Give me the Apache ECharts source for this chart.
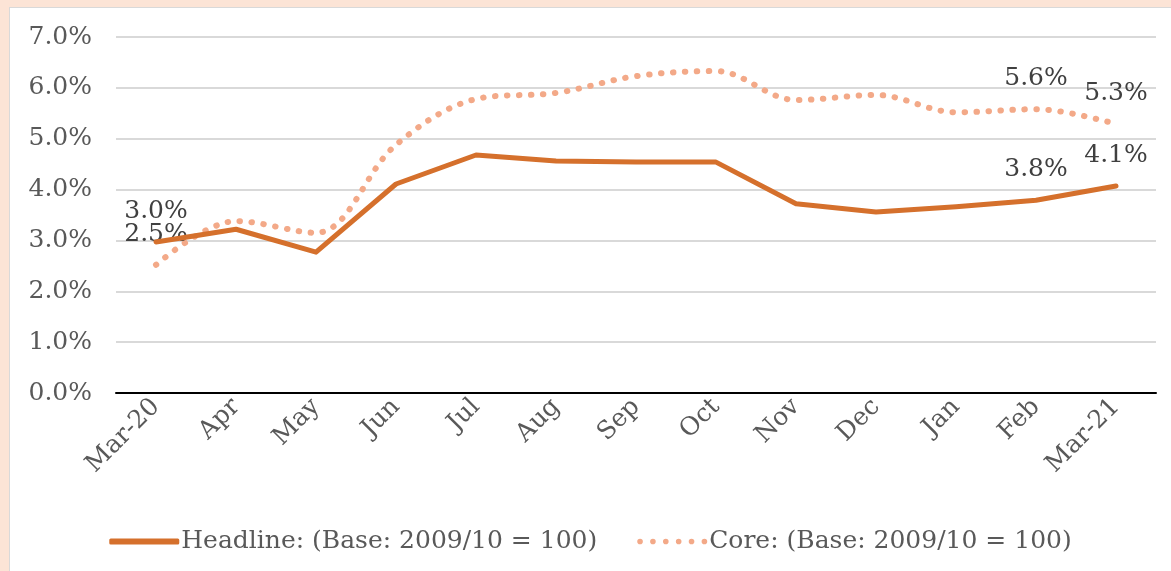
<!DOCTYPE html>
<html>
<head>
<meta charset="utf-8">
<script src="https://cdn.jsdelivr.net/npm/echarts@6/dist/echarts.min.js"></script>
<style>
  html, body { margin: 0; padding: 0; background: #fce4d6; }
  .frame {
    position: absolute; left: 9px; top: 7px;
    width: 1162px; height: 564px; box-sizing: border-box;
    border-left: 1px solid #d9d9d9; border-top: 1px solid #d9d9d9;
    background: #fff;
  }
  #chart { width: 1161px; height: 563px; }
</style>
</head>
<body>
<div class="frame"><div id="chart"></div></div>
<script>
const months = ["Mar-20", "Apr", "May", "Jun", "Jul", "Aug", "Sep", "Oct", "Nov", "Dec", "Jan", "Feb", "Mar-21"];
const headline = [2.97, 3.22, 2.77, 4.11, 4.68, 4.56, 4.54, 4.54, 3.72, 3.56, 3.66, 3.79, 4.07];
const core = [2.52, 3.38, 3.15, 4.88, 5.78, 5.90, 6.23, 6.33, 5.76, 5.86, 5.52, 5.58, 5.29];
const labelled = [0, 11, 12];

const fontFamily = "DejaVu Serif";
const pct = (v) => v.toFixed(1) + "%";

const withLabels = (arr) => arr.map((v, i) => ({
  value: v,
  label: { show: labelled.indexOf(i) >= 0 }
}));

// six dots for the dotted legend key
let dots = "path://";
for (let k = 0; k < 6; k++) {
  const cx = 3 + k * 12.8, r = 2.8;
  dots += "M" + (cx - r) + ",3 a" + r + "," + r + " 0 1,0 " + (2 * r) + ",0 a" + r + "," + r + " 0 1,0 " + (-2 * r) + ",0 Z ";
}

const chart = echarts.init(document.getElementById("chart"));
const option = {
  animation: false,
  textStyle: { fontFamily: fontFamily },
  grid: { left: 106, right: 15, top: 29, bottom: 178, outerBoundsMode: "none" },
  legend: {
    left: "center",
    top: 516,
    itemWidth: 70,
    itemHeight: 6,
    itemGap: 40,
    textStyle: { fontFamily: fontFamily, fontSize: 25, color: "#595959", padding: [0, 0, 0, -3] },
    data: [
      { name: "Headline: (Base: 2009/10 = 100)", icon: "roundRect" },
      { name: "Core: (Base: 2009/10 = 100)", icon: dots }
    ]
  },
  xAxis: {
    type: "category",
    data: months,
    boundaryGap: true,
    axisLine: { lineStyle: { color: "#000", width: 2 } },
    axisTick: { show: false },
    axisLabel: { rotate: 45, fontSize: 25, color: "#595959", margin: 10, interval: 0 }
  },
  yAxis: {
    type: "value",
    min: 0,
    max: 7,
    interval: 1,
    axisLine: { show: false },
    axisTick: { show: false },
    splitLine: { lineStyle: { color: "#d9d9d9", width: 2 } },
    axisLabel: { formatter: pct, fontSize: 25, color: "#595959", margin: 24 }
  },
  series: [
    {
      name: "Headline: (Base: 2009/10 = 100)",
      type: "line",
      data: withLabels(headline),
      symbol: "circle",
      symbolSize: 0,
      showSymbol: true,
      lineStyle: { color: "#d5702c", width: 5, cap: "round", join: "round" },
      itemStyle: { color: "#d5702c" },
      label: {
        position: "top", distance: 18,
        fontSize: 25, color: "#404040",
        formatter: (p) => pct(p.value)
      },
      z: 3
    },
    {
      name: "Core: (Base: 2009/10 = 100)",
      type: "line",
      data: withLabels(core),
      symbol: "circle",
      symbolSize: 0,
      showSymbol: true,
      smooth: 0.35,
      lineStyle: { color: "#f3a988", width: 6, type: [0.5, 11.5], cap: "round" },
      itemStyle: { color: "#f3a988" },
      label: {
        position: "top", distance: 18,
        fontSize: 25, color: "#404040",
        formatter: (p) => pct(p.value)
      },
      z: 2
    }
  ]
};
chart.setOption(option);
</script>
</body>
</html>
